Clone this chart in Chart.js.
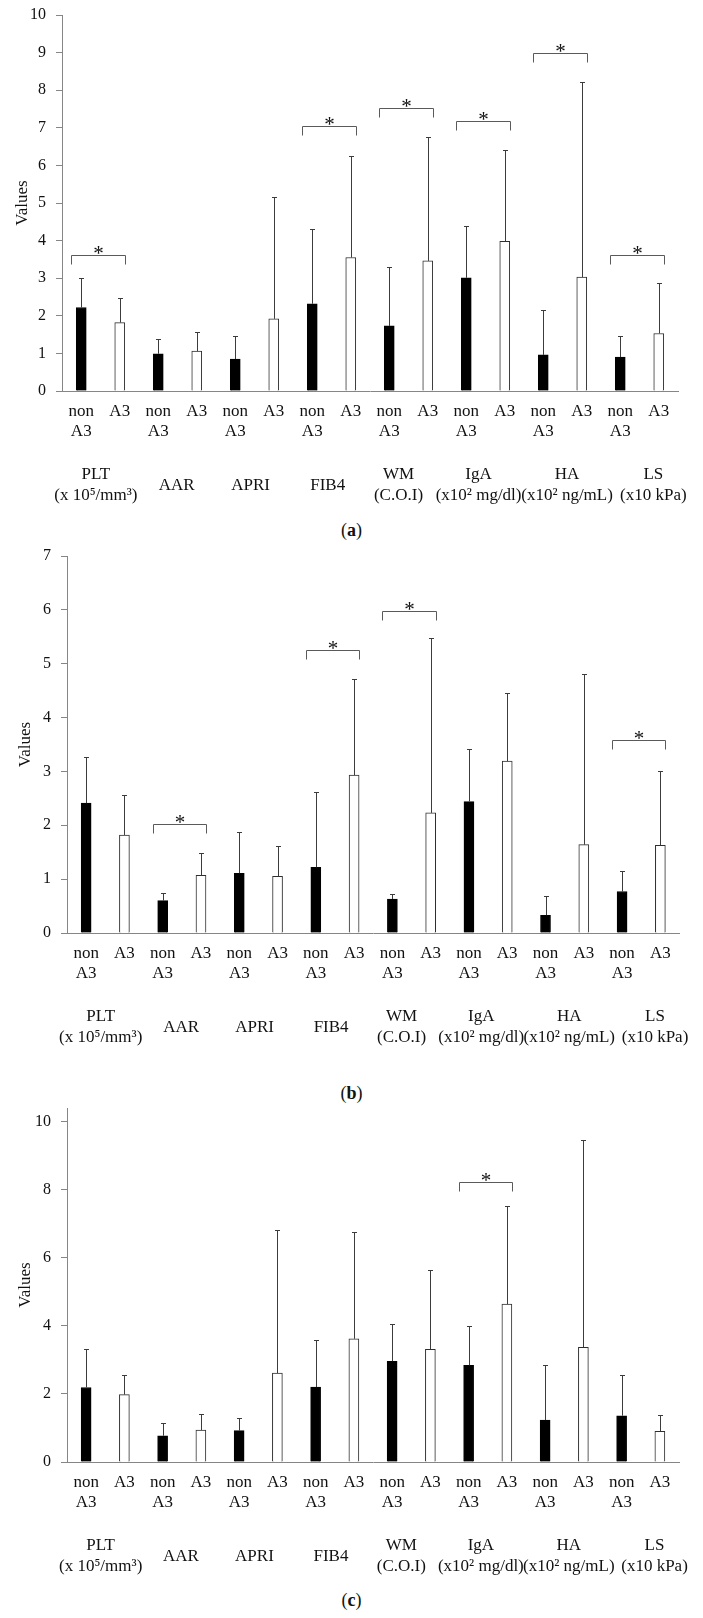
<!DOCTYPE html>
<html>
<head>
<meta charset="utf-8">
<script src="https://cdn.jsdelivr.net/npm/chart.js@4.4.1/dist/chart.umd.min.js"></script>
<style>
html,body{margin:0;padding:0;background:#fff;}
body{width:703px;height:1618px;position:relative;overflow:hidden;font-family:'Liberation Serif','Times New Roman',serif;}
.wrap{position:absolute;left:0;width:703px;}
.cap{position:absolute;left:0;width:703px;text-align:center;font-size:18px;line-height:20px;color:#111;}
</style>
</head>
<body>
<div class="wrap" style="top:0px;height:511px"><canvas id="ca" width="703" height="511"></canvas></div>
<div class="cap" style="top:520px">(<b>a</b>)</div>
<div class="wrap" style="top:545px;height:508px"><canvas id="cb" width="703" height="508"></canvas></div>
<div class="cap" style="top:1083px">(<b>b</b>)</div>
<div class="wrap" style="top:1100px;height:482px"><canvas id="cc" width="703" height="482"></canvas></div>
<div class="cap" style="top:1590px">(<b>c</b>)</div>
<script>
// ---- categories / tick labels ----
const groupLabels = [["PLT","(x 10\u2075/mm\u00B3)"],"AAR","APRI","FIB4",["WM","(C.O.I)"],["IgA","(x10\u00B2 mg/dl)"],["HA","(x10\u00B2 ng/mL)"],["LS","(x10 kPa)"]];
const barLabelNon = ["non","A3"];
const barLabelA3 = "A3";

// ---- panel (a) ----
const aNonA3    = [2.22,0.99,0.85,2.32,1.73,3.01,0.96,0.90];
const aNonA3Err = [3.01,1.39,1.45,4.31,3.31,4.39,2.16,1.46];
const aA3       = [1.82,1.06,1.92,3.55,3.46,3.98,3.03,1.53];
const aA3Err    = [2.48,1.57,5.17,6.25,6.76,6.41,8.23,2.87];
const aSig      = [3.62,null,null,7.05,7.52,7.18,8.99,3.62];

// ---- panel (b) ----
const bNonA3    = [2.41,0.60,1.11,1.22,0.63,2.44,0.33,0.77];
const bNonA3Err = [3.26,0.74,1.88,2.61,0.73,3.42,0.68,1.16];
const bA3       = [1.82,1.07,1.05,2.93,2.23,3.19,1.64,1.63];
const bA3Err    = [2.56,1.49,1.62,4.72,5.48,4.46,4.80,3.01];
const bSig      = [null,2.02,null,5.26,5.98,null,null,3.59];

// ---- panel (c) ----
const cNonA3    = [2.19,0.77,0.92,2.20,2.96,2.84,1.23,1.36];
const cNonA3Err = [3.33,1.14,1.28,3.58,4.04,4.01,2.84,2.56];
const cA3       = [1.98,0.94,2.61,3.62,3.31,4.64,3.37,0.90];
const cA3Err    = [2.56,1.42,6.82,6.77,5.65,7.53,9.47,1.39];
const cSig      = [null,null,null,null,null,8.24,null,null];

// layout: where each group caption sits along the group axis (in group units)
const GROUP_LABEL_POS = [0.44,1.49,2.45,3.45,4.37,5.41,6.56,7.68];

const FONT = "'Liberation Serif','Times New Roman',serif";
const AXIS = '#868686';
const TXT = '#111111';

function makeChart(id, non, a3, nonErr, a3Err, sig, cfg){
  const labels = [], values = [], errs = [], bg = [], bc = [];
  for (let g = 0; g < non.length; g++){
    labels.push(barLabelNon, barLabelA3);
    values.push(non[g], a3[g]);
    errs.push(nonErr[g], a3Err[g]);
    bg.push('#000000', '#ffffff');
    bc.push('#000000', '#2e2e2e');
  }
  const annot = {
    id: 'annot' + id,
    afterDatasetsDraw(chart){
      const ctx = chart.ctx, meta = chart.getDatasetMeta(0), ys = chart.scales.y;
      ctx.save();
      ctx.strokeStyle = '#3c3c3c'; ctx.lineWidth = 1;
      meta.data.forEach((bar, i) => {
        const x = Math.round(bar.x) + 0.5;
        const yT = Math.round(ys.getPixelForValue(errs[i])) + 0.5;
        ctx.beginPath();
        ctx.moveTo(x, bar.y); ctx.lineTo(x, yT);
        ctx.moveTo(x - 2.5, yT); ctx.lineTo(x + 2.5, yT);
        ctx.stroke();
      });
      ctx.strokeStyle = '#5a5a5a';
      sig.forEach((h, g) => {
        if (h === null) return;
        const xl = Math.round(meta.data[2*g].x - 10) + 0.5;
        const xr = Math.round(meta.data[2*g+1].x + 5) + 0.5;
        const y = Math.round(ys.getPixelForValue(h)) + 0.5;
        ctx.beginPath();
        ctx.moveTo(xl, y + 9); ctx.lineTo(xl, y); ctx.lineTo(xr, y); ctx.lineTo(xr, y + 9);
        ctx.stroke();
        ctx.fillStyle = '#111';
        ctx.font = '21px ' + FONT;
        ctx.textAlign = 'center'; ctx.textBaseline = 'alphabetic';
        ctx.fillText('*', (xl + xr) / 2, y + 4);
      });
      ctx.restore();
    }
  };
  return new Chart(document.getElementById(id), {
    type: 'bar',
    data: { labels: labels, datasets: [{ data: values, backgroundColor: bg, borderColor: bc, borderWidth: 1, barThickness: 10 }] },
    options: {
      responsive: false, animation: false, events: [],
      layout: { padding: { top: cfg.padTop, right: cfg.padRight, left: 0, bottom: 0 } },
      plugins: { legend: { display: false }, tooltip: { enabled: false } },
      scales: {
        y: {
          min: 0, max: cfg.ymax,
          ticks: { stepSize: cfg.step, includeBounds: false, font: { family: FONT, size: 16 }, color: TXT, padding: 10 },
          grid: { display: true, drawOnChartArea: false, drawTicks: true, tickLength: 6, color: AXIS },
          border: { display: true, color: AXIS },
          title: { display: true, text: 'Values', font: { family: FONT, size: 17 }, color: TXT, padding: { top: cfg.titlePad, bottom: 0 } },
          afterBuildTicks: s => { s.ticks = s.ticks.filter(t => Math.abs(t.value / cfg.step - Math.round(t.value / cfg.step)) < 1e-6); },
          afterFit: s => { s.width = cfg.yWidth; s.paddingTop = 0; s.paddingBottom = 0; }
        },
        x: {
          type: 'category', offset: true, weight: 0,
          grid: { display: false },
          border: { display: true, color: AXIS },
          ticks: { autoSkip: false, maxRotation: 0, minRotation: 0, font: { family: FONT, size: 17, lineHeight: 1.21 }, color: TXT, padding: 2 },
          afterFit: s => { s.height = 60; s.paddingLeft = 0; s.paddingRight = 0; }
        },
        x2: {
          type: 'linear', position: 'bottom', min: 0, max: groupLabels.length, offset: false, weight: 1,
          grid: { display: false, offset: false },
          border: { display: false },
          afterBuildTicks: s => { s.ticks = GROUP_LABEL_POS.map(v => ({ value: v })); },
          ticks: { autoSkip: false, maxRotation: 0, minRotation: 0, crossAlign: 'center',
                   callback: (v, i) => groupLabels[i],
                   font: { family: FONT, size: 17, lineHeight: 1.2 }, color: TXT, padding: 16 },
          afterFit: s => { s.height = 60; s.paddingLeft = 0; s.paddingRight = 0; }
        }
      }
    },
    plugins: [annot]
  });
}

makeChart('ca', aNonA3, aA3, aNonA3Err, aA3Err, aSig, { ymax: 10, step: 1, padTop: 15, padRight: 25, yWidth: 62, titlePad: 12 });
makeChart('cb', bNonA3, bA3, bNonA3Err, bA3Err, bSig, { ymax: 7, step: 1, padTop: 11, padRight: 23.5, yWidth: 67, titlePad: 15 });
makeChart('cc', cNonA3, cA3, cNonA3Err, cA3Err, cSig, { ymax: 10.4, step: 2, padTop: 8, padRight: 24, yWidth: 67, titlePad: 15 });
</script>
</body>
</html>
